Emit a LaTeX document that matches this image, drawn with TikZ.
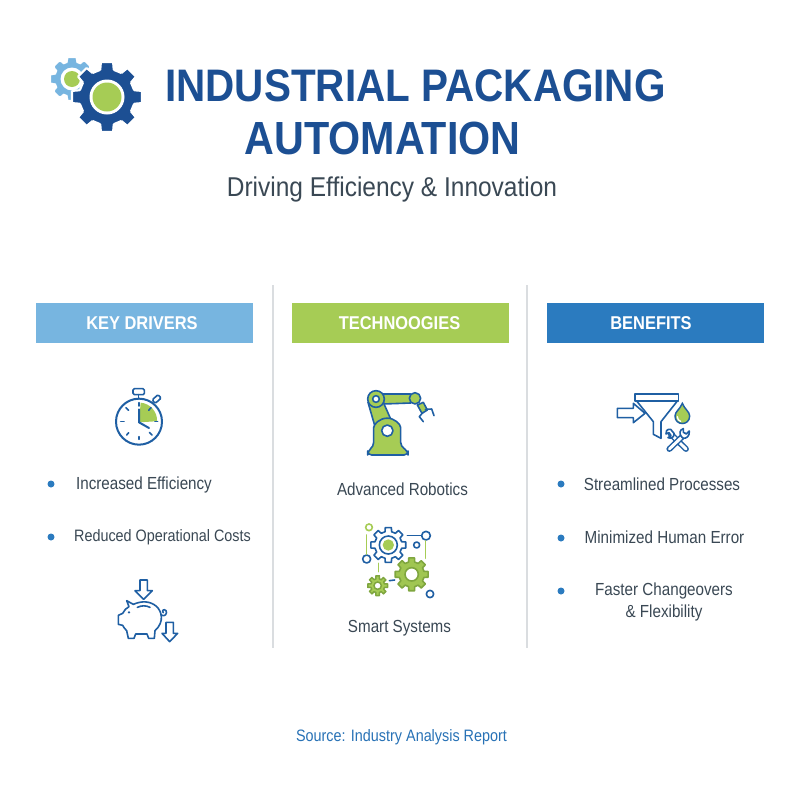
\documentclass[tikz,border=0pt]{standalone}
\usepackage{fontspec}
\setmainfont{Liberation Sans}
\newfontfamily\bodyfont[FakeStretch=0.87]{Liberation Sans}
\newfontfamily\subfont[FakeStretch=0.90]{Liberation Sans}
\newfontfamily\headfont[FakeStretch=0.887]{Liberation Sans}
\definecolor{navy}{HTML}{1C4F93}
\definecolor{iconblue}{HTML}{1F5FA3}
\definecolor{sky}{HTML}{77B5E0}
\definecolor{leaf}{HTML}{A6CC55}
\definecolor{moss}{HTML}{7FA63F}
\definecolor{royal}{HTML}{2B7BBF}
\definecolor{ink}{HTML}{3A4854}
\definecolor{rulegrey}{HTML}{DADDE0}
\newcommand{\gearicon}[7]{% style, cx, cy, rout, rin, n, phase
  \pgfmathsetmacro{\wa}{180/#6*0.62}\pgfmathsetmacro{\wb}{180/#6*0.44}
  \draw[#1,shift={(#2,#3)}] (#7-\wa:#5)
    \foreach \i [evaluate=\i as \a using \i*360/#6+#7] in {1,...,#6}{
      -- (\a-360/#6-\wa:#5) -- (\a-360/#6-\wb:#4)
      -- (\a-360/#6+\wb:#4) -- (\a-360/#6+\wa:#5)
    } -- cycle;}
\tikzset{
  stroke/.style={draw=iconblue,line width=1.5pt,line join=round,line cap=round},
  thin stroke/.style={draw=iconblue,line width=1.2pt,line join=round,line cap=round},
  greenline/.style={draw=leaf,line width=1.2pt,line cap=round},
  headerbox/.style={minimum width=217\pxu,minimum height=40\pxu,inner sep=0pt},
  headertext/.style={text=white,inner sep=0pt,font=\headfont\bfseries\fontsize{13.9}{17}\selectfont},
  item/.style={text=ink,inner sep=0pt,align=center,font=\bodyfont\fontsize{13.1}{17.2}\selectfont},
  smallitem/.style={text=ink,inner sep=0pt,align=center,font=\bodyfont\fontsize{12.4}{17.2}\selectfont},
  bullet/.style={circle,fill=royal,minimum size=7\pxu,inner sep=0pt},
  titletext/.style={text=navy,inner sep=0pt},
  divider/.style={draw=rulegrey,line width=0.9pt}
}
\def\pxu{*0.75pt}
\begin{document}
\begin{tikzpicture}[x=0.75pt,y=-0.75pt]
\useasboundingbox (0,0) rectangle (800,800);
\fill[white] (0,0) rectangle (800,800);

% logo
\gearicon{fill=sky,draw=sky,line width=0.3pt,rounded corners=0.5pt}{72}{79}{21}{16.5}{8}{0}
\fill[white] (72,79) circle (11.5);
\fill[leaf] (72,79) circle (8);
\gearicon{fill=navy,draw=white,line width=1.6pt,rounded corners=0.6pt}{107}{97}{35.5}{28}{8}{-90}
\fill[white] (107,97) circle (17.5);
\fill[leaf] (107,97) circle (14.5);

% title
\node[titletext,font=\headfont\bfseries\fontsize{34.2}{40}\selectfont] (t1) at (415.5,86) {INDUSTRIAL PACKAGING};
\node[titletext,font=\headfont\bfseries\fontsize{34.9}{40}\selectfont] (t2) at (382.5,138) {AUTOMATION};
\node[text=ink,inner sep=0pt,font=\subfont\fontsize{20.4}{24}\selectfont] (sub) at (392,189.5) {Driving Efficiency \& Innovation};

% dividers
\coordinate (d1a) at (273,285); \coordinate (d1b) at (273,648);
\coordinate (d2a) at (527,285); \coordinate (d2b) at (527,648);
\draw[divider] (d1a) -- (d1b);
\draw[divider] (d2a) -- (d2b);

% headers
\node[headerbox,fill=sky] (h1) at (144.5,323) {};
\node[headerbox,fill=leaf] (h2) at (400,323) {};
\node[headerbox,fill=royal] (h3) at (655.5,323) {};
\node[headertext] (l1) at (142,323) {KEY DRIVERS};
\node[headertext] (l2) at (399.5,323) {TECHNOOGIES};
\node[headertext] (l3) at (651,323) {BENEFITS};

% stopwatch
\begin{scope}[shift={(90,370)},scale=1/3]
  \fill[leaf] (147,157) -- (152,98) arc[start angle=-85,end angle=2,radius=54] -- cycle;
  \draw[stroke] (147,155) circle (69);
  \draw[thin stroke,rounded corners=1pt] (129,56) rectangle (163,74);
  \draw[thin stroke] (146,74) -- (146,86);
  \draw[thin stroke,rotate around={42:(200,87)},rounded corners=1pt] (188,80) rectangle (212,94);
  \draw[stroke] (147,118) -- (147,157) -- (177,174);
  \foreach \x/\y/\u/\v in {147/98/147/108, 195/155/203/155, 147/200/147/208, 92/155/102/155,
     108/113/116/121, 183/113/176/121, 110/195/116/188, 186/195/178/187}
     {\draw[thin stroke] (\x,\y) -- (\u,\v);}
\end{scope}

% piggy bank
\begin{scope}[shift={(100,570)},scale=1/3]
  \draw[thin stroke] (120,30) -- (142,30) -- (142,62) -- (157,62) -- (131,88) -- (105,62) -- (120,62) -- cycle;
  \draw[thin stroke] (198,157) -- (220,157) -- (220,190) -- (233,190) -- (209,215) -- (186,190) -- (198,190) -- cycle;
  \draw[thin stroke] (80,92) -- (100,103) .. controls (125,92) and (150,93) .. (168,108)
     .. controls (185,122) and (195,155) .. (165,182) -- (163,205) -- (146,205) -- (141,192) -- (107,192)
     -- (102,205) -- (85,205) -- (80,182) .. controls (73,175) and (70,170) .. (68,166) -- (55,163) -- (55,136)
     -- (68,130) .. controls (72,120) and (80,114) .. (87,110) -- cycle;
  \draw[thin stroke] (183,135) .. controls (195,142) and (203,130) .. (198,122) .. controls (192,115) and (184,122) .. (190,128);
  \fill[iconblue] (87,127) circle (4);
  \draw[thin stroke] (112,112) .. controls (125,106) and (138,106) .. (150,112);
\end{scope}

% robot arm
\begin{scope}[shift={(340,375)},scale=1/3]
  \begin{scope}[thin stroke,fill=leaf]
  \filldraw (125,57) -- (212,57) -- (212,84) -- (130,87) -- cycle;
  \filldraw (84,82) -- (108,165) -- (160,150) -- (130,82) -- cycle;
  \filldraw[rounded corners=3pt] (83,240) -- (83,228) -- (101,214) -- (101,170) arc[start angle=180,end angle=360,radius=40.5] -- (182,214) -- (204,228) -- (204,240) -- cycle;
  \filldraw (108,72) circle (25);
  \filldraw (232,90) -- (250,82) -- (262,105) -- (246,115) -- cycle;
  \filldraw (225,70) circle (17);
  \end{scope}
  \draw[thin stroke,fill=white] (108,72) circle (10);
  \draw[thin stroke,fill=white] (142,167) circle (17);
  \draw[thin stroke] (248,113) -- (238,125) -- (250,140);
  \draw[thin stroke] (256,103) -- (275,102) -- (282,122);
\end{scope}

% smart systems
\begin{scope}[shift={(350,515)},scale=1/3]
  \gearicon{thin stroke,fill=white}{115}{90}{53}{41}{8}{0}
  \draw[thin stroke] (115,90) circle (27);
  \fill[leaf] (115,90) circle (17);
  \gearicon{draw=moss,line width=1.2pt,line join=round,fill=leaf!85!moss}{185}{178}{50}{38}{8}{0}
  \draw[draw=moss,line width=1.2pt,fill=white] (185,178) circle (20);
  \gearicon{draw=moss,line width=1.1pt,line join=round,fill=leaf}{83}{212}{30}{21}{8}{0}
  \draw[draw=moss,line width=1.1pt,fill=white] (83,212) circle (11);
  \draw[draw=leaf,line width=1.2pt] (57,37) circle (10);
  \draw[thin stroke] (228,62) circle (13);
  \draw[thin stroke] (200,90) circle (9);
  \draw[thin stroke] (50,132) circle (12);
  \draw[thin stroke] (240,237) circle (11);
  \draw[greenline] (50,60) -- (50,118);
  \draw[greenline] (227,78) -- (227,130);
  \draw[greenline] (85,145) -- (85,170);
  \draw[thin stroke] (172,62) -- (213,62);
  \draw[thin stroke] (118,197) -- (134,195);
\end{scope}

% funnel icon
\begin{scope}[shift={(600,380)},scale=1/3]
  \draw[thin stroke,line cap=butt] (105,42) rectangle (235,63);
  \draw[thin stroke] (110,63) -- (160,125) -- (160,163) -- (183,175) -- (183,125) -- (232,63);
  \draw[thin stroke,fill=white] (52,85) -- (100,85) -- (100,70) -- (135,100) -- (100,128) -- (100,113) -- (52,113) -- cycle;
  \draw[draw=iconblue,line width=1.1pt,fill=leaf] (247,70) .. controls (240,88) and (225,95) .. (225,108) .. controls (225,138) and (269,138) .. (269,108) .. controls (269,95) and (254,88) .. (247,70) -- cycle;
  \draw[white,line width=1pt,line cap=round] (232,110) .. controls (232,118) and (236,122) .. (242,124);
  % crossed tools
  \draw[iconblue,line width=4.4pt,line cap=round] (212,162) -- (258,207);
  \draw[white,line width=2.2pt,line cap=round] (212,162) -- (258,207);
  \draw[iconblue,line width=4.4pt,line cap=round] (252,165) -- (208,207);
  \draw[white,line width=2.2pt,line cap=round] (252,165) -- (208,207);
  \draw[thin stroke,fill=white] (250,146) .. controls (238,149) and (238,162) .. (243,168) -- (248,174) .. controls (258,178) and (270,168) .. (268,153) -- (259,162) -- (250,157) -- cycle;
  \draw[thin stroke,fill=white] (212,148) .. controls (200,146) and (196,156) .. (198,162) -- (207,158) -- (213,167) -- (204,173) .. controls (214,178) and (224,170) .. (222,160) -- cycle;
\end{scope}

% bullets
\node[bullet] (b1) at (51,484) {};
\node[bullet] (b2) at (51,537) {};
\node[bullet] (b3) at (561,484) {};
\node[bullet] (b4) at (561,538) {};
\node[bullet] (b5) at (561,591) {};

% texts
\node[item] (i1) at (144,484.5) {Increased Efficiency};
\node[smallitem] (i2) at (162.5,537.5) {Reduced Operational Costs};
\node[item] (i3) at (402.5,489.5) {Advanced Robotics};
\node[item] (i4) at (399.5,628.5) {Smart Systems};
\node[item] (i5) at (662,484.5) {Streamlined Processes};
\node[item] (i6) at (664.5,537.5) {Minimized Human Error};
\node[item] (i7) at (664,602) {Faster Changeovers\\\& Flexibility};
\node[smallitem,text=royal!80!navy] (src) at (401.5,737.5) {Source: Industry Analysis Report};
\end{tikzpicture}
\end{document}
